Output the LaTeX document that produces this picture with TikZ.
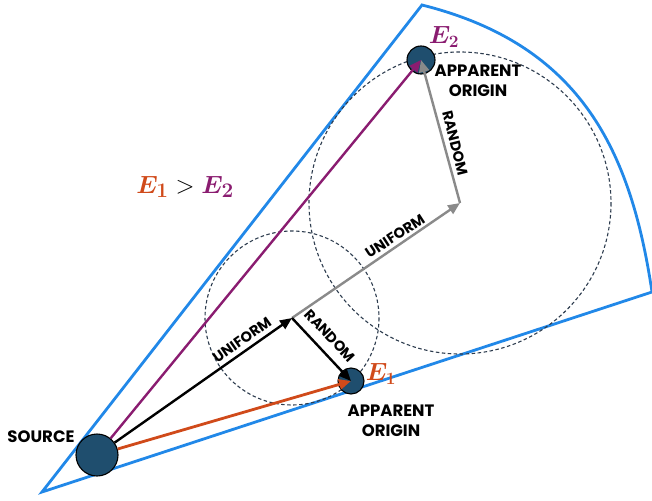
\documentclass[tikz,border=0pt]{standalone}
\usepackage{fontspec}
\usepackage{amsmath}
\setsansfont{Poppins}
\usetikzlibrary{arrows.meta}
\definecolor{coneblue}{RGB}{33,136,232}
\definecolor{ballfill}{RGB}{31,78,110}
\definecolor{epurple}{RGB}{138,28,112}
\definecolor{eorange}{RGB}{208,74,26}
\definecolor{agray}{RGB}{138,138,138}
\definecolor{dashc}{RGB}{45,60,78}
\tikzset{
  ball/.style={circle, draw=black, line width=1.1pt, fill=ballfill, inner sep=0pt},
  cone/.style={draw=coneblue, line width=2.8pt, line join=miter},
  dashcirc/.style={draw=dashc, line width=1.1pt, dash pattern=on 3.5pt off 2.5pt},
  tip/.style={-{Triangle[length=12pt,width=10pt]}},
  purplearrow/.style={tip, draw=epurple, fill=epurple, line width=2.4pt},
  orangearrow/.style={tip, draw=eorange, fill=eorange, line width=2.8pt},
  blackarrow/.style={tip, draw=black, fill=black, line width=2.4pt},
  grayarrow/.style={tip, draw=agray, fill=agray, line width=2.4pt},
  biglab/.style={font=\sffamily\bfseries\fontsize{16.5}{20.5}\selectfont, align=center, inner sep=0pt},
  arrlab/.style={font=\sffamily\bfseries\fontsize{14.5}{15}\selectfont, inner sep=0pt},
  elab/.style={font=\fontsize{24}{26}\selectfont, inner sep=0pt}
}
\begin{document}
\begin{tikzpicture}[x=1pt,y=-1pt]
\useasboundingbox (0,0) rectangle (652,500);
% cone
\coordinate (apex) at (42,492);
\coordinate (ctop) at (422,5);
\coordinate (cright) at (652,292);
\draw[cone] (apex) -- (ctop) .. controls (582,45) and (631,152) .. (cright) -- cycle;
% intermediate points
\coordinate (m1) at (292,318);
\coordinate (m2) at (460,203);
% dashed circles
\draw[dashcirc] (m1) circle (87);
\draw[dashcirc] (m2) circle (151);
% balls
\node[ball, minimum size=42pt] (src) at (97,455) {};
\node[ball, minimum size=26pt] (e1) at (351,381) {};
\node[ball, minimum size=28pt] (e2) at (421,60) {};
% connectors
\draw[purplearrow] (src) -- (e2.center);
\draw[orangearrow] (src) -- (e1.center);
\draw[grayarrow] (m1) -- (m2);
\draw[blackarrow] (src) -- (m1);
\draw[blackarrow] (m1) -- (e1.center);
\draw[grayarrow] (m2) -- (e2.center);
% labels
\node[biglab] (srclab) at (41,437) {SOURCE};
\node[biglab] (ao1) at (391,421) {APPARENT\\ORIGIN};
\node[biglab] (ao2) at (478,81) {APPARENT\\ORIGIN};
\node[elab, text=eorange] (e1lab) at (381,374) {$\boldsymbol{E_1}$};
\node[elab, text=epurple] (e2lab) at (444,37) {$\boldsymbol{E_2}$};
\node[elab, font=\fontsize{28}{30}\selectfont] (cmp) at (185,187) {$\textcolor{eorange}{\boldsymbol{E_1}} > \textcolor{epurple}{\boldsymbol{E_2}}$};
\node[arrlab, rotate=35] (u1) at (242,340) {UNIFORM};
\node[arrlab, rotate=33] (u2) at (395,236) {UNIFORM};
\node[arrlab, rotate=-47] (r1) at (330,336) {RANDOM};
\node[arrlab, rotate=-76] (r2) at (455,143) {RANDOM};
\end{tikzpicture}
\end{document}
